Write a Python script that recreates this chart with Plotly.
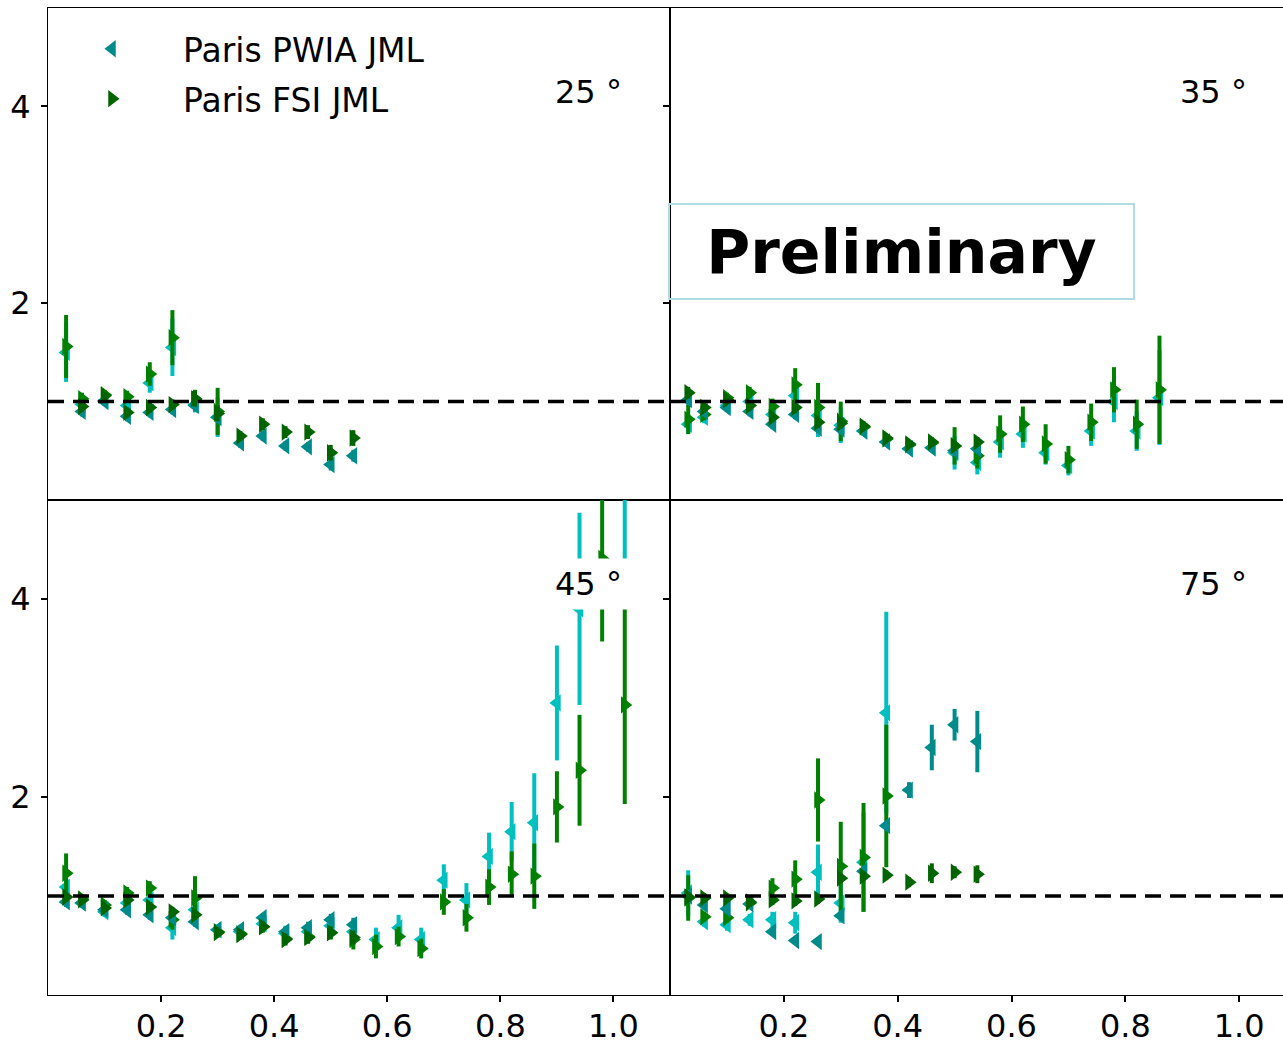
import plotly.graph_objects as go
from plotly.subplots import make_subplots

# x positions of the momentum bins
x_dark = [0.032, 0.06, 0.10, 0.14, 0.18, 0.22, 0.26, 0.30, 0.34, 0.38, 0.42, 0.46, 0.50, 0.54]
x_light = [0.032, 0.06, 0.10, 0.14, 0.18, 0.22, 0.26, 0.30, 0.34, 0.38, 0.42, 0.46, 0.50,
           0.54, 0.58, 0.62, 0.66, 0.70, 0.74, 0.78, 0.82, 0.86, 0.90, 0.94, 0.98, 1.02]

# 25 deg
pwia_25 = [None, 0.90, 1.00, 0.85, 0.89, 0.92, 0.96, 0.84, 0.58, 0.65, 0.55, 0.54, 0.36, 0.45]
pwia_25_err = [0, 0.05, 0.04, 0.05, 0.05, 0.05, 0.06, 0.06, 0.05, 0.05, 0.05, 0.05, 0.06, 0.06]
fsi_25 = [None, 0.95, 1.06, 0.89, 0.94, 0.97, 1.03, 0.88, 0.65, 0.77, 0.69, 0.69, 0.48, 0.63]
fsi_25_err = [0, 0.05, 0.04, 0.05, 0.05, 0.05, 0.08, 0.08, 0.05, 0.06, 0.06, 0.07, 0.08, 0.08]
pwia2_25 = [1.50, 0.97, 1.01, 0.96, 1.19, 1.55, 0.97, 0.84]
pwia2_25_err = [0.30, 0.05, 0.05, 0.06, 0.10, 0.29, 0.08, 0.20]
fsi2_25 = [1.56, 1.03, 1.07, 1.05, 1.28, 1.65, 1.02, 0.90]
fsi2_25_err = [0.32, 0.06, 0.05, 0.06, 0.12, 0.28, 0.10, 0.24]

# 35 deg
pwia_35 = [1.02, 0.90, 0.94, 0.90, 0.77, 0.87, 0.73, 0.72, 0.70, 0.59, 0.52, 0.53, 0.50, 0.52]
pwia_35_err = [0.05, 0.05, 0.04, 0.05, 0.05, 0.05, 0.05, 0.05, 0.04, 0.04, 0.04, 0.04, 0.05, 0.05]
fsi_35 = [1.09, 0.94, 1.02, 0.96, 0.84, 0.94, 0.79, 0.78, 0.75, 0.63, 0.57, 0.59, 0.55, 0.59]
fsi_35_err = [0.06, 0.05, 0.04, 0.05, 0.05, 0.06, 0.06, 0.05, 0.05, 0.04, 0.04, 0.05, 0.05, 0.05]
pwia2_35 = [0.77, 0.84, 0.96, 1.00, 0.87, 1.06, 0.86, 0.76, 0.70, 0.59, 0.52, 0.53, 0.48, 0.38,
            0.59, 0.67, 0.48, 0.35, 0.70, 1.00, 0.70, 1.04]
pwia2_35_err = [0.10, 0.06, 0.05, 0.06, 0.08, 0.12, 0.22, 0.18, 0.05, 0.04, 0.04, 0.05, 0.17,
                0.12, 0.16, 0.14, 0.12, 0.10, 0.15, 0.21, 0.20, 0.48]
fsi2_35 = [0.82, 0.87, 1.04, 1.09, 0.95, 1.17, 0.94, 0.80, 0.74, 0.62, 0.56, 0.58, 0.55, 0.45,
           0.67, 0.77, 0.57, 0.41, 0.79, 1.12, 0.77, 1.12]
fsi2_35_err = [0.15, 0.06, 0.05, 0.06, 0.08, 0.17, 0.25, 0.20, 0.05, 0.04, 0.04, 0.05, 0.19,
               0.13, 0.19, 0.18, 0.20, 0.14, 0.19, 0.23, 0.25, 0.55]

# 45 deg
pwia_45 = [0.94, 0.93, 0.86, 0.86, 0.81, 0.78, 0.74, 0.66, 0.66, 0.78, 0.64, 0.68, 0.76, 0.71]
pwia_45_err = [0.05, 0.04, 0.04, 0.05, 0.05, 0.05, 0.05, 0.05, 0.05, 0.05, 0.05, 0.06, 0.06, 0.07]
fsi_45 = [0.99, 0.96, 0.88, 0.96, 0.89, 0.84, 0.81, 0.63, 0.61, 0.69, 0.56, 0.58, 0.63, 0.58]
fsi_45_err = [0.05, 0.04, 0.04, 0.05, 0.05, 0.05, 0.05, 0.05, 0.05, 0.05, 0.06, 0.06, 0.06, 0.07]
pwia2_45 = [1.09, 0.93, 0.84, 0.93, 0.96, 0.68, 0.86, 0.66, 0.64, 0.72, 0.62, 0.64, 0.70, 0.64,
            0.56, 0.68, 0.56, 1.16, 0.96, 1.40, 1.65, 1.74, 2.95, 3.90, None, 5.80]
pwia2_45_err = [0.08, 0.05, 0.05, 0.06, 0.07, 0.12, 0.10, 0.05, 0.05, 0.06, 0.08, 0.08, 0.09,
                0.12, 0.12, 0.13, 0.12, 0.16, 0.17, 0.24, 0.30, 0.50, 0.58, 0.97, 0, 1.60]
fsi2_45 = [1.23, 0.97, 0.91, 1.03, 1.08, 0.76, 0.98, 0.64, 0.62, 0.69, 0.57, 0.59, 0.63, 0.56,
           0.49, 0.59, 0.47, 0.94, 0.78, 1.09, 1.22, 1.20, 1.90, 2.27, 4.41, 2.93]
fsi2_45_err = [0.20, 0.05, 0.05, 0.06, 0.07, 0.10, 0.22, 0.05, 0.05, 0.06, 0.06, 0.07, 0.07,
               0.10, 0.12, 0.10, 0.10, 0.13, 0.14, 0.18, 0.23, 0.33, 0.36, 0.56, 0.84, 1.00]

# 75 deg
pwia_75 = [1.00, 0.91, 0.87, 0.92, 0.64, 0.55, 0.54, 0.80, 1.25, 1.71, 2.07, 2.50, 2.73, 2.56]
pwia_75_err = [0.05, 0.05, 0.05, 0.05, 0.04, 0.04, 0.04, 0.05, 0.05, 0.05, 0.08, 0.23, 0.16, 0.31]
fsi_75 = [0.99, 0.98, 0.98, 0.94, 0.96, 0.95, 0.97, 1.18, 1.20, 1.21, 1.14, 1.23, 1.24, 1.22]
fsi_75_err = [0.05, 0.05, 0.04, 0.05, 0.05, 0.05, 0.05, 0.05, 0.05, 0.05, 0.05, 0.10, 0.06, 0.09]
pwia2_75 = [1.03, 0.74, 0.71, 0.76, 0.76, 0.73, 1.24, 0.93, 1.34, 2.85]
pwia2_75_err = [0.23, 0.05, 0.06, 0.06, 0.08, 0.11, 0.28, 0.20, 0.50, 1.02]
fsi2_75 = [0.98, 0.79, 0.78, 0.93, 1.08, 1.17, 1.97, 1.30, 1.39, 2.01]
fsi2_75_err = [0.23, 0.05, 0.05, 0.06, 0.10, 0.19, 0.42, 0.45, 0.55, 0.72]

panels = [
    ("25", 1, 1, pwia_25, pwia_25_err, fsi_25, fsi_25_err, pwia2_25, pwia2_25_err, fsi2_25, fsi2_25_err),
    ("35", 1, 2, pwia_35, pwia_35_err, fsi_35, fsi_35_err, pwia2_35, pwia2_35_err, fsi2_35, fsi2_35_err),
    ("45", 2, 1, pwia_45, pwia_45_err, fsi_45, fsi_45_err, pwia2_45, pwia2_45_err, fsi2_45, fsi2_45_err),
    ("75", 2, 2, pwia_75, pwia_75_err, fsi_75, fsi_75_err, pwia2_75, pwia2_75_err, fsi2_75, fsi2_75_err),
]

fig = make_subplots(rows=2, cols=2, horizontal_spacing=0, vertical_spacing=0,
                    column_widths=[622, 613], row_heights=[492, 495])


def add_series(row, col, x, y, err, color, symbol, name=None):
    n = len(y)
    fig.add_trace(go.Scatter(
        x=x[:n], y=y, mode='markers', name=name, showlegend=name is not None,
        legendgroup=name,
        marker=dict(symbol=symbol, size=15, color=color, line=dict(width=0)),
        error_y=dict(type='data', array=err, color=color, thickness=4, width=0),
    ), row=row, col=col)


for label, r, c, pw, pwe, fs, fse, pw2, pw2e, fs2, fs2e in panels:
    first = (r == 1 and c == 1)
    add_series(r, c, x_light, pw2, pw2e, '#00bfbf', 'triangle-left')
    add_series(r, c, x_light, fs2, fs2e, '#008000', 'triangle-right')
    add_series(r, c, x_dark, pw, pwe, '#008b8b', 'triangle-left', 'Paris PWIA JML' if first else None)
    add_series(r, c, x_dark, fs, fse, '#006400', 'triangle-right', 'Paris FSI JML' if first else None)

font = dict(family='DejaVu Sans', size=32, color='black')
axis_style = dict(showline=True, mirror=True, linecolor='black', linewidth=1.2,
                  ticks='outside', ticklen=6, tickwidth=1.5, tickcolor='black',
                  showgrid=False, zeroline=False, tickfont=font, automargin=False)

for r in (1, 2):
    for c in (1, 2):
        fig.update_xaxes(axis_style, range=[0, 1.1 if c == 1 else 1.077],
                         tickvals=[0.2, 0.4, 0.6, 0.8, 1.0],
                         ticktext=['0.2', '0.4', '0.6', '0.8', '1.0'],
                         showticklabels=(r == 2), ticks='outside' if r == 2 else '',
                         ticklabelstandoff=-4, row=r, col=c)
        fig.update_yaxes(axis_style, range=[0, 5], tickvals=[2, 4],
                         showticklabels=(c == 1), ticklabelstandoff=4, row=r, col=c)
        fig.add_hline(y=1, line=dict(color='black', width=3.5, dash='16px,9px'), row=r, col=c)

annotations = []
for i, (label, r, c, *_rest) in enumerate(panels):
    ax = '' if i == 0 else str(i + 1)
    annotations.append(dict(x=0.955, y=4.15, xref='x' + ax, yref='y' + ax,
                            xanchor='center', yanchor='middle',
                            text=label + ' °', showarrow=False, font=font,
                            bgcolor='white', borderpad=6))
annotations.append(dict(x=(901 - 48) / 1235, y=1 - (251 - 8) / 987, xref='paper', yref='paper',
                        xanchor='center', yanchor='middle',
                        text='<b>Preliminary</b>', showarrow=False,
                        font=dict(family='DejaVu Sans', size=60, color='black'),
                        width=455, height=85, bordercolor='#b0dde4', borderwidth=2,
                        borderpad=4))
fig.update_layout(annotations=annotations)

fig.update_layout(
    width=1283, height=1045,
    margin=dict(l=48, r=0, t=8, b=50, autoexpand=False),
    plot_bgcolor='white', paper_bgcolor='white',
    font=font,
    legend=dict(x=(41 - 48) / 1235, y=0.987, xanchor='left', yanchor='top',
                bgcolor='rgba(0,0,0,0)', font=dict(family='DejaVu Sans', size=33),
                itemwidth=132, tracegroupgap=4),
)

fig.write_html("out.html", config={'displayModeBar': False},
               post_script="document.body.style.margin='0';document.body.style.overflow='hidden';")
